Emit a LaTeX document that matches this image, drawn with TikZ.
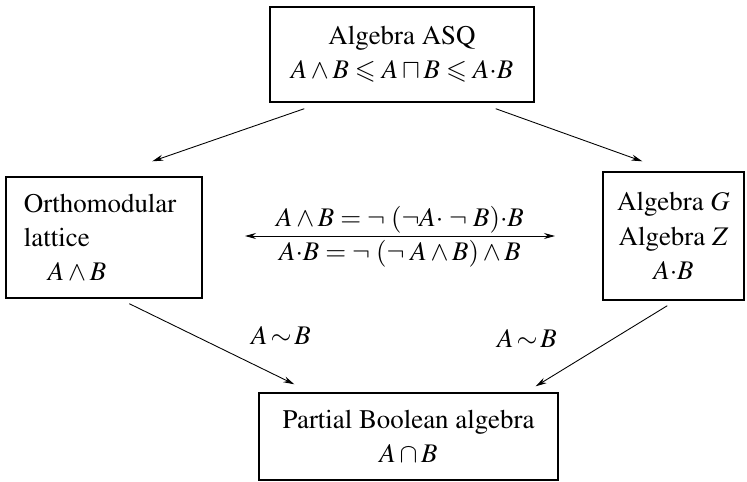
\documentclass[tikz,border=0pt]{standalone}
\usepackage{amsmath}
\usepackage{amssymb}
\usepackage[T1]{fontenc}
\usepackage{mathptmx}
\usepackage{tikz}
\usetikzlibrary{positioning, arrows.meta}

\begin{document}
\begin{tikzpicture}[node distance=1.8cm, on grid, >={Stealth[length=2.2mm, width=1.2mm]},
    font=\fontsize{15.3}{19.5}\selectfont,
    box/.style={draw, line width=0.8pt, align=center, inner sep=0pt},
    arr/.style={->, line width=0.5pt}]
    \useasboundingbox (0,0) rectangle (14.94,-9.64);

    \node[box, minimum width=5.28cm, minimum height=1.9cm] (asq) at (8.04,-1.09)
        {Algebra ASQ\\ $A\wedge B\leqslant A\sqcap B\leqslant A{\cdot}B$};
    \node[box, minimum width=3.92cm, minimum height=2.42cm, text width=3.2cm, align=left,
        inner xsep=0.36cm, below left=3.66cm and 5.96cm of asq] (oml)
        {Orthomodular\\ lattice\\ \hspace*{0.48cm}$A\wedge B$};
    \node[box, minimum width=2.82cm, minimum height=2.56cm, below right=3.63cm and 5.43cm of asq] (gz)
        {Algebra $G$\\ Algebra $Z$\\ $A{\cdot}B$};
    \node[box, minimum width=5.98cm, minimum height=1.74cm, below right=7.64cm and 0.13cm of asq] (pba)
        {Partial Boolean algebra\\ $A\cap B$};

    \coordinate[below left=3.63cm and 3.14cm of asq] (ml);
    \coordinate[below right=3.63cm and 3.06cm of asq] (mr);
    \draw[<->, line width=0.5pt] (ml) --
        node[above, inner sep=1.5pt] {$A\wedge B=\neg\;(\neg A{\cdot}\;\neg\; B){\cdot}B$}
        node[below, inner sep=2.5pt] {$A{\cdot}B=\neg\;(\neg\; A\wedge B)\wedge B$} (mr);

    \node[above left=2.03cm and 2.55cm of pba] (simL) {$A\mspace{2mu}{\sim}\mspace{2mu}B$};
    \node[above right=1.97cm and 2.37cm of pba] (simR) {$A\mspace{2mu}{\sim}\mspace{2mu}B$};

    % arrows between the structures
    \draw[arr] ([xshift=0.7cm, yshift=-0.12cm]asq.south west) -- ([xshift=2.94cm, yshift=0.3cm]oml.north west);
    \draw[arr] ([xshift=-0.78cm, yshift=-0.12cm]asq.south east) -- ([xshift=0.8cm, yshift=0.2cm]gz.north west);
    \draw[arr] ([xshift=2.48cm, yshift=-0.1cm]oml.south west) -- ([xshift=0.72cm, yshift=0.16cm]pba.north west);
    \draw[arr] ([xshift=1.3cm, yshift=-0.1cm]gz.south west) -- ([xshift=-0.46cm, yshift=0.12cm]pba.north east);
\end{tikzpicture}
\end{document}
